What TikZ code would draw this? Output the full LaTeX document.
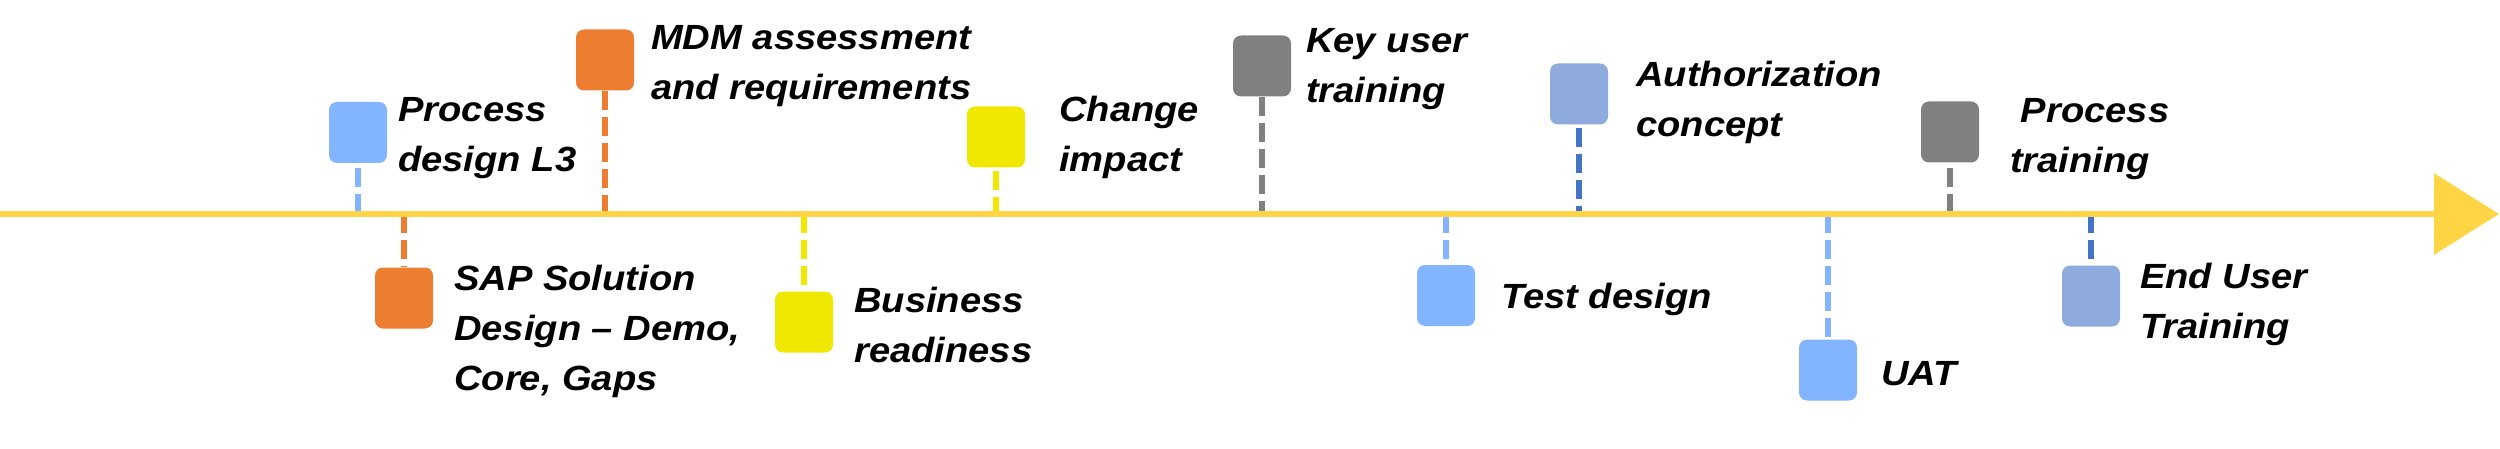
\documentclass[tikz,border=0pt]{standalone}
\usepackage{fontspec}
\setmainfont{Liberation Sans}[FakeStretch=1.09]
\usetikzlibrary{arrows.meta}
\definecolor{lblue}{RGB}{130,180,255}
\definecolor{orng}{RGB}{237,125,49}
\definecolor{yllw}{RGB}{240,232,0}
\definecolor{gry}{RGB}{128,128,128}
\definecolor{steel}{RGB}{143,170,220}
\definecolor{dblue}{RGB}{68,114,196}
\definecolor{gold}{RGB}{255,213,70}
\begin{document}
\begin{tikzpicture}[x=1pt,y=-1pt,
  ms/.style={rounded corners=8pt, minimum width=58pt, minimum height=61pt, inner sep=0pt, draw=none},
  lbl/.style={anchor=base west, align=left, inner sep=0pt, font=\fontsize{35}{50}\selectfont\bfseries\itshape},
  conn/.style={line width=6pt, dash pattern=on 19pt off 7pt}]
\useasboundingbox (0,0) rectangle (2500,449);
% milestone boxes
\node[ms, fill=lblue] (pd)  at (358,132.5) {};
\node[ms, fill=orng]  (mdm) at (605,60) {};
\node[ms, fill=orng]  (sap) at (404,298) {};
\node[ms, fill=yllw]  (bus) at (804,322) {};
\node[ms, fill=yllw]  (chg) at (996,137) {};
\node[ms, fill=gry]   (key) at (1262,66) {};
\node[ms, fill=steel] (aut) at (1579,94) {};
\node[ms, fill=lblue] (tst) at (1446,295.5) {};
\node[ms, fill=gry]   (prt) at (1950,132) {};
\node[ms, fill=lblue] (uat) at (1828,370) {};
\node[ms, fill=steel] (eut) at (2091,296) {};
% points on the timeline
\coordinate (tpd)  at (358,214);
\coordinate (tmdm) at (605,214);
\coordinate (tsap) at (404,214);
\coordinate (tbus) at (804,214);
\coordinate (tchg) at (996,214);
\coordinate (tkey) at (1262,214);
\coordinate (taut) at (1579,214);
\coordinate (ttst) at (1446,214);
\coordinate (tprt) at (1950,214);
\coordinate (tuat) at (1828,214);
\coordinate (teut) at (2091,214);
% connectors
\draw[conn, lblue] ([yshift=-5pt]pd.south) -- (tpd);
\draw[conn, orng]  (mdm.south) -- (tmdm);
\draw[conn, orng]  (tsap) -- (sap.north);
\draw[conn, yllw]  (tbus) -- (bus.north);
\draw[conn, yllw]  ([yshift=-3pt]chg.south) -- (tchg);
\draw[conn, gry]   (key.south) -- (tkey);
\draw[conn, dblue] ([yshift=-3pt]aut.south) -- (taut);
\draw[conn, lblue] (ttst) -- ([yshift=4pt]tst.north);
\draw[conn, gry]   ([yshift=-5pt]prt.south) -- (tprt);
\draw[conn, lblue] (tuat) -- (uat.north);
\draw[conn, dblue] (teut) -- ([yshift=3pt]eut.north);
% timeline
\coordinate (tl0) at (0,214);
\coordinate (tl1) at (2499,214);
\draw[line width=6.5pt, gold, -{Triangle[length=65pt,width=80pt]}] (tl0) -- (tl1);
% labels (anchored at the baseline of the last line)
\node[lbl] (lpd)  at (398,172)  {Process\\design L3};
\node[lbl] (lmdm) at (651,100)  {MDM assessment\\and requirements};
\node[lbl] (lsap) at (454,390)  {SAP Solution\\Design -- Demo,\\Core, Gaps};
\node[lbl] (lbus) at (854,362)  {Business\\readiness};
\node[lbl] (lchg) at (1059,172) {Change\\impact};
\node[lbl] (lkey) at (1306,103) {Key user\\training};
\node[lbl] (laut) at (1636,137) {Authorization\\concept};
\node[lbl] (ltst) at (1501,308) {Test design};
\node[lbl] (lprt) at (2010,173) {\ Process\\training};
\node[lbl] (luat) at (1881,385) {UAT};
\node[lbl] (leut) at (2140,338) {End User\\Training};
\end{tikzpicture}
\end{document}
